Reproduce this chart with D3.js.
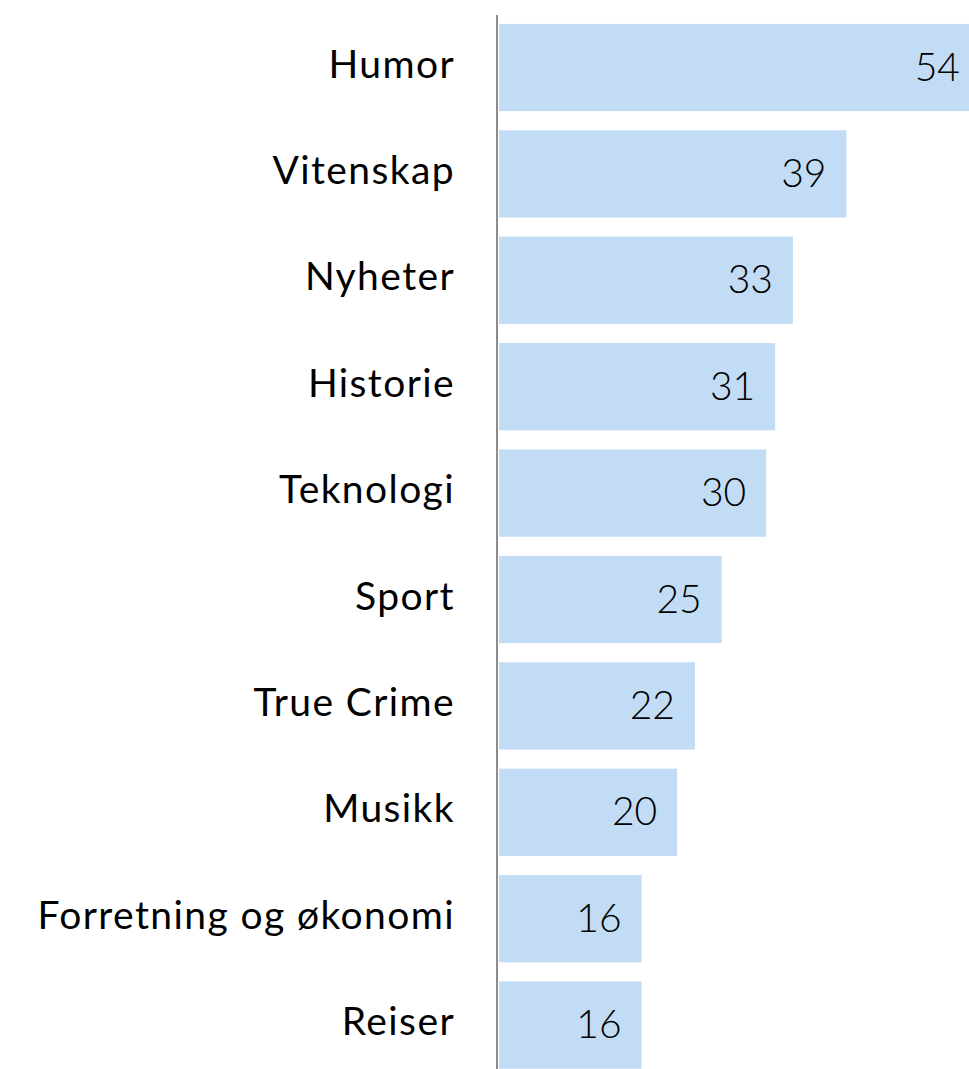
<!DOCTYPE html>
<html>
<head>
<meta charset="utf-8">
<script src="https://cdn.jsdelivr.net/npm/d3@7"></script>
<style>
  html, body { margin: 0; padding: 0; background: #fff; }
  svg { display: block; }
</style>
</head>
<body>
<svg id="chart" width="969" height="1069"></svg>
<script>
// Podcast genres, share in percent
const categories = ["Humor", "Vitenskap", "Nyheter", "Historie", "Teknologi", "Sport", "True Crime", "Musikk", "Forretning og økonomi", "Reiser"];
const values = [54, 39, 33, 31, 30, 25, 22, 20, 16, 16];

const width = 969, height = 1069;
const svg = d3.select("#chart");

const x = d3.scaleLinear().domain([0, 54]).range([499, 980]);
const y = d3.scaleBand().domain(categories).range([14.3, 1078.3]).paddingInner(0.18).paddingOuter(0.09);

const rows = categories.map((c, i) => ({ c, v: values[i] }));

svg.append("g").selectAll("rect").data(rows).join("rect")
  .attr("x", x(0))
  .attr("y", d => y(d.c))
  .attr("width", d => x(d.v) - x(0))
  .attr("height", y.bandwidth())
  .attr("fill", "#c2dcf5");

// Category labels
svg.append("g").selectAll("text").data(rows).join("text")
  .attr("x", 455)
  .attr("y", d => y(d.c) + y.bandwidth() / 2 + 10)
  .attr("text-anchor", "end")
  .attr("font-family", "Lato, 'Open Sans', sans-serif")
  .attr("font-size", 39)
  .attr("letter-spacing", "1.4px")
  .attr("fill", "#000")
  .text(d => d.c);

// Value labels inside bars
svg.append("g").selectAll("text").data(rows).join("text")
  .attr("x", d => x(d.v) - 20)
  .attr("y", d => y(d.c) + y.bandwidth() / 2 + 13)
  .attr("text-anchor", "end")
  .attr("font-family", "Lato, 'Open Sans', sans-serif")
  .attr("font-weight", 300)
  .attr("font-size", 39)
  .attr("fill", "#000")
  .text(d => d.v);

// Vertical baseline
svg.append("line")
  .attr("x1", 497).attr("x2", 497)
  .attr("y1", 15).attr("y2", height)
  .attr("stroke", "#8c8c8c")
  .attr("stroke-width", 2);
</script>
</body>
</html>
